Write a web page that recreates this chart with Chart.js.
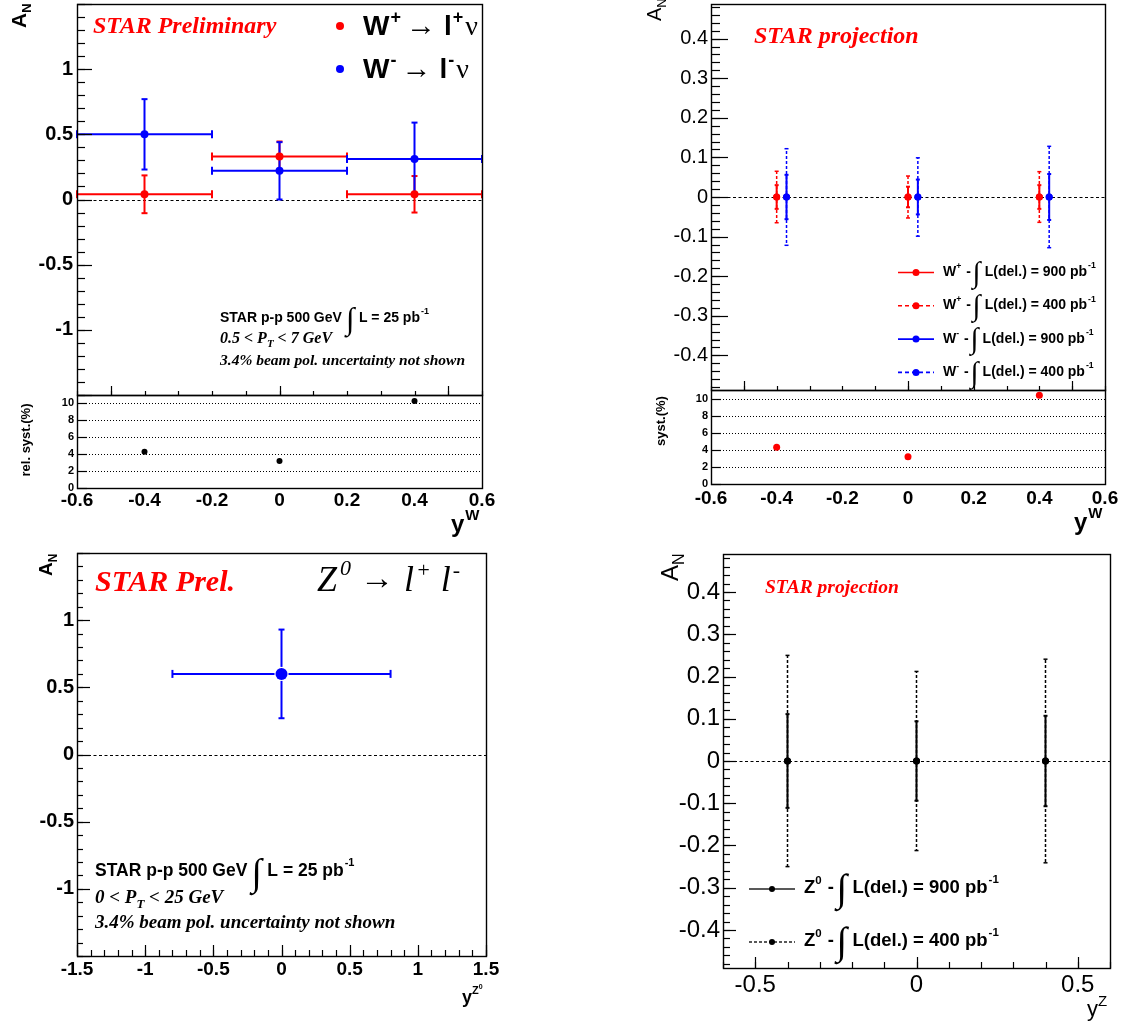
<!DOCTYPE html>
<html>
<head>
<meta charset="utf-8">
<title>Transverse single-spin asymmetry A_N for W and Z bosons</title>
<script src="https://cdn.jsdelivr.net/npm/chart.js@4.4.1/dist/chart.umd.min.js"></script>
<style>
  html, body { margin: 0; padding: 0; background: #fff; }
  #page { position: relative; width: 1137px; height: 1023px; overflow: hidden; }
  #page canvas { position: absolute; left: 0; top: 0; }
</style>
</head>
<body>
<div id="page">
  <canvas id="wMain" width="1137" height="1023"></canvas>
  <canvas id="wSyst" width="1137" height="1023"></canvas>
  <canvas id="wProj" width="1137" height="1023"></canvas>
  <canvas id="wProjSyst" width="1137" height="1023"></canvas>
  <canvas id="zMain" width="1137" height="1023"></canvas>
  <canvas id="zProj" width="1137" height="1023"></canvas>
</div>
<script>
// ---- W -> l nu, measured A_N vs boson rapidity (25 pb^-1) ----
const wRapidity = [-0.4, 0.0, 0.4];
const wRapHalfWidth = [0.2, 0.2, 0.2];
const wPlusAN = [0.04, 0.33, 0.04];
const wPlusErr = [0.145, 0.115, 0.14];
const wMinusAN = [0.50, 0.22, 0.31];
const wMinusErr = [0.27, 0.22, 0.28];
const wRelSyst = [4.3, 3.2, 10.3];

// ---- W projections for 900 / 400 pb^-1 delivered ----
const projRapWPlus = [-0.4, 0.0, 0.4];
const projRapWMinus = [-0.37, 0.03, 0.43];
const projAN = [0, 0, 0];
const wPlusErr900 = [0.030, 0.026, 0.030];
const wPlusErr400 = [0.065, 0.053, 0.064];
const wMinusErr900 = [0.056, 0.044, 0.058];
const wMinusErr400 = [0.122, 0.099, 0.128];
const projSyst = [4.3, 3.2, 10.4];

// ---- Z0 -> l+ l- ----
const zRapidity = [0.0];
const zRapHalfWidth = [0.8];
const zAN = [0.60];
const zErr = [0.33];
const zProjRap = [-0.4, 0.0, 0.4];
const zProjAN = [0, 0, 0];
const zErr900 = [0.111, 0.094, 0.107];
const zErr400 = [0.250, 0.212, 0.241];

// ---- tick labels ----
const anTicksWide = [-1, -0.5, 0, 0.5, 1];
const anTicksNarrow = [-0.4, -0.3, -0.2, -0.1, 0, 0.1, 0.2, 0.3, 0.4];
const wRapTicks = [-0.6, -0.4, -0.2, 0, 0.2, 0.4, 0.6];
const systTicks = [0, 2, 4, 6, 8, 10];
const zRapTicks = [-1.5, -1, -0.5, 0, 0.5, 1, 1.5];
const zProjRapTicks = [-0.5, 0, 0.5];

const W = 1137, H = 1023;
const AXW = 70, AXH = 45;   // fixed room for tick labels
const RED = '#ff0000', BLUE = '#0000ff', BLACK = '#000000';
const SANS = '"Liberation Sans", Arial, Helvetica, sans-serif';
const SERIF = '"Liberation Serif", "Times New Roman", serif';
const fnt = (size, weight, style, fam) => `${style || 'normal'} ${weight || 'normal'} ${size}px ${fam || SANS}`;

const pts = (xs, ys) => xs.map((x, i) => ({ x: x, y: ys[i] }));

// draws a run of text pieces [text, font, dy, extraGap] left to right
function rich(ctx, x, y, parts) {
  let cx = x;
  parts.forEach(p => {
    ctx.font = p[1];
    ctx.fillText(p[0], cx, y + (p[2] || 0));
    cx += ctx.measureText(p[0]).width + (p[3] || 0);
  });
  return cx;
}

// vertical axis title, reading bottom to top
function titleY(ctx, x, y, parts, align) {
  ctx.save();
  ctx.translate(x, y);
  ctx.rotate(-Math.PI / 2);
  ctx.fillStyle = BLACK;
  if (align === 'center') {
    ctx.textAlign = 'center';
    ctx.font = parts[0][1];
    ctx.fillText(parts[0][0], 0, 0);
  } else {
    rich(ctx, 0, 0, parts);
  }
  ctx.restore();
}

// "W+ - ∫L(del.) = 900 pb-1"
function lumiLabel(ctx, x, y, size, boson, charge, lumi) {
  ctx.fillStyle = BLACK;
  let cx = rich(ctx, x, y, [[boson, fnt(size, 'bold')], [charge, fnt(size * 0.62, 'bold'), -size * 0.5, 1], [' - ', fnt(size, 'bold')]]);
  ctx.font = fnt(size * 2.1, 'normal', 'italic', SERIF);
  ctx.fillText('\u222B', cx - size * 0.15, y + size * 0.42);
  cx += size * 0.72;
  rich(ctx, cx, y, [['L(del.) = ' + lumi + ' pb', fnt(size, 'bold'), 0, 1], ['-1', fnt(size * 0.62, 'bold'), -size * 0.55]]);
}

function drawErrors(ctx, xs, ys, ds) {
  if (!ds.errY && !ds.errX) return;
  ctx.save();
  ctx.strokeStyle = ds.errColor || ds.backgroundColor;
  ctx.lineWidth = ds.errWidth || 2;
  const gap = ds.errGap || 0, cap = ds.cap || 3;
  const seg = (x0, y0, x1, y1, dash) => {
    ctx.setLineDash(dash);
    ctx.beginPath(); ctx.moveTo(x0, y0); ctx.lineTo(x1, y1); ctx.stroke();
  };
  ds.data.forEach((p, j) => {
    const px = xs.getPixelForValue(p.x), py = ys.getPixelForValue(p.y);
    const dash = ds.errDash || [];
    if (ds.errY) {
      const top = ys.getPixelForValue(p.y + ds.errY[j]);
      const bot = ys.getPixelForValue(p.y - ds.errY[j]);
      seg(px, py - gap, px, top, dash);
      seg(px, py + gap, px, bot, dash);
      seg(px - cap, top, px + cap, top, []);
      seg(px - cap, bot, px + cap, bot, []);
    }
    if (ds.errX) {
      const lo = xs.getPixelForValue(p.x - ds.errX[j]);
      const hi = xs.getPixelForValue(p.x + ds.errX[j]);
      seg(px - gap, py, lo, py, dash);
      seg(px + gap, py, hi, py, dash);
      seg(lo, py - cap - 1, lo, py + cap + 1, []);
      seg(hi, py - cap - 1, hi, py + cap + 1, []);
    }
  });
  ctx.restore();
}

function drawTicks(ctx, scale, area, specs, axis) {
  specs.forEach(([step, len]) => {
    const i0 = Math.ceil(scale.min / step - 1e-6), i1 = Math.floor(scale.max / step + 1e-6);
    for (let i = i0; i <= i1; i++) {
      const pix = Math.round(scale.getPixelForValue(i * step)) + 0.5;
      ctx.beginPath();
      if (axis === 'y') { ctx.moveTo(area.left, pix); ctx.lineTo(area.left + len, pix); }
      else { ctx.moveTo(pix, area.bottom); ctx.lineTo(pix, area.bottom - len); }
      ctx.stroke();
    }
  });
}

// ROOT-like frame: inward ticks, zero line, error bars, extra text
function rootDecor(p) {
  return {
    id: 'rootDecor',
    beforeDatasetsDraw(chart) {
      const ctx = chart.ctx, a = chart.chartArea, xs = chart.scales.x, ys = chart.scales.y;
      ctx.save();
      ctx.strokeStyle = BLACK;
      if (p.zeroLine) {
        const y0 = Math.round(ys.getPixelForValue(0)) + 0.5;
        ctx.lineWidth = 1.2; ctx.setLineDash([3, 2.5]);
        ctx.beginPath(); ctx.moveTo(a.left, y0); ctx.lineTo(a.right, y0); ctx.stroke();
      }
      if (p.dotted) {
        ctx.lineWidth = 1; ctx.setLineDash([1, 2]);
        p.dotted.forEach(v => {
          const y = Math.round(ys.getPixelForValue(v)) + 0.5;
          ctx.beginPath(); ctx.moveTo(a.left, y); ctx.lineTo(a.right, y); ctx.stroke();
        });
      }
      ctx.restore();
      chart.data.datasets.forEach(ds => drawErrors(ctx, xs, ys, ds));
    },
    afterDatasetsDraw(chart) {
      const ctx = chart.ctx, a = chart.chartArea;
      ctx.save();
      ctx.strokeStyle = BLACK; ctx.lineWidth = 1.4; ctx.setLineDash([]);
      ctx.strokeRect(Math.round(a.left) + 0.5, Math.round(a.top) + 0.5, Math.round(a.right - a.left), Math.round(a.bottom - a.top));
      ctx.lineWidth = 1.2;
      if (p.yTicks) drawTicks(ctx, chart.scales.y, a, p.yTicks, 'y');
      if (p.xTicks) drawTicks(ctx, chart.scales.x, a, p.xTicks, 'x');
      ctx.restore();
      if (p.decorate) { ctx.save(); ctx.textBaseline = 'alphabetic'; p.decorate(ctx, chart); ctx.restore(); }
    }
  };
}

function axisOpts(axis, a) {
  return {
    type: 'linear', position: axis === 'x' ? 'bottom' : 'left',
    min: a.min, max: a.max,
    grid: { display: false, drawTicks: false },
    border: { display: false },
    afterBuildTicks: s => { s.ticks = a.labels.map(v => ({ value: v })); },
    afterFit: s => {
      if (axis === 'x') s.height = AXH; else s.width = AXW;
      s.paddingTop = 0; s.paddingBottom = 0; s.paddingLeft = 0; s.paddingRight = 0;
    },
    ticks: {
      display: a.show !== false,
      autoSkip: false, maxRotation: 0, minRotation: 0,
      padding: a.pad, color: BLACK,
      font: { family: SANS, size: a.size, weight: a.weight || 'normal' },
      callback: v => String(v)
    }
  };
}

function makePanel(id, p) {
  const b = p.box;
  return new Chart(document.getElementById(id), {
    type: 'scatter',
    data: { datasets: p.datasets },
    options: {
      responsive: false, animation: false, devicePixelRatio: 1, events: [],
      layout: { padding: { left: b[0] - AXW, top: b[1], right: W - b[2], bottom: H - b[3] - AXH } },
      plugins: { legend: { display: false }, tooltip: { enabled: false }, title: { display: false } },
      scales: { x: axisOpts('x', p.x), y: axisOpts('y', p.y) }
    },
    plugins: [rootDecor(p)]
  });
}

function marker(color, r) {
  return { showLine: false, pointRadius: r, pointBorderWidth: 0, backgroundColor: color, pointBackgroundColor: color, borderColor: color };
}

// ================= top left: measured W asymmetry =================
makePanel('wMain', {
  box: [77, 4, 482, 395],
  x: { min: -0.6, max: 0.6, labels: wRapTicks, show: false },
  y: { min: -1.5, max: 1.5, labels: anTicksWide, size: 20, weight: 'bold', pad: 4 },
  yTicks: [[0.5, 15], [0.1, 8]],
  xTicks: [[0.5, 9], [0.1, 4]],
  zeroLine: true,
  datasets: [
    Object.assign({ data: pts(wRapidity, wPlusAN), errX: wRapHalfWidth, errY: wPlusErr, errWidth: 2, cap: 3 }, marker(RED, 4)),
    Object.assign({ data: pts(wRapidity, wMinusAN), errX: wRapHalfWidth, errY: wMinusErr, errWidth: 2, cap: 3 }, marker(BLUE, 4))
  ],
  decorate(ctx) {
    ctx.fillStyle = RED;
    ctx.font = fnt(24, 'bold', 'italic', SERIF);
    ctx.fillText('STAR Preliminary', 93, 33);
    [[RED, '+', 35], [BLUE, '-', 78]].forEach(([c, q, by]) => {
      ctx.fillStyle = c;
      ctx.beginPath(); ctx.arc(340, by - 9, 4, 0, 2 * Math.PI); ctx.fill();
      ctx.fillStyle = BLACK;
      rich(ctx, 363, by, [
        ['W', fnt(28, 'bold'), 0, 1], [q, fnt(18, 'bold'), -12, 5],
        ['\u2192', fnt(30), 0, 8],
        ['l', fnt(28, 'bold'), 0, 1], [q, fnt(18, 'bold'), -12, 2],
        ['\u03BD', fnt(28, 'normal', 'normal', SERIF)]
      ]);
    });
    ctx.fillStyle = BLACK;
    let cx = rich(ctx, 220, 322, [['STAR p-p 500 GeV', fnt(14, 'bold'), 0, 3]]);
    ctx.font = fnt(31, 'normal', 'italic', SERIF);
    ctx.fillText('\u222B', cx + 1, 329);
    rich(ctx, cx + 14, 322, [['L = 25 pb', fnt(14, 'bold'), 0, 1], ['-1', fnt(9, 'bold'), -8]]);
    rich(ctx, 220, 343, [['0.5 < P', fnt(16, 'bold', 'italic', SERIF)], ['T', fnt(11, 'bold', 'italic', SERIF), 4], [' < 7 GeV', fnt(16, 'bold', 'italic', SERIF)]]);
    rich(ctx, 220, 365, [['3.4% beam pol. uncertainty not shown', fnt(15.5, 'bold', 'italic', SERIF)]]);
    titleY(ctx, 26, 28, [['A', fnt(21, 'bold')], ['N', fnt(13, 'bold'), 5]]);
  }
});

makePanel('wSyst', {
  box: [77, 395, 482, 488],
  x: { min: -0.6, max: 0.6, labels: wRapTicks, size: 19, weight: 'bold', pad: 1 },
  y: { min: 0, max: 11, labels: systTicks, size: 11, weight: 'bold', pad: 3 },
  yTicks: [[2, 10]],
  dotted: [2, 4, 6, 8, 10],
  datasets: [Object.assign({ data: pts(wRapidity, wRelSyst) }, marker(BLACK, 3))],
  decorate(ctx) {
    titleY(ctx, 30, 440, [['rel. syst.(%)', fnt(13, 'bold')]], 'center');
    ctx.fillStyle = BLACK;
    rich(ctx, 451, 532, [['y', fnt(24, 'bold'), 0, 1], ['W', fnt(15, 'bold'), -12]]);
  }
});

// ================= top right: W projections =================
function wProjSet(rap, err, color, dash, width) {
  return Object.assign({ data: pts(rap, projAN), errY: err, errDash: dash, errWidth: width, errGap: 3, cap: 2 }, marker(color, 3.5));
}
const wProjRows = [
  { color: RED, charge: '+', lumi: 900, dash: [] },
  { color: RED, charge: '+', lumi: 400, dash: [4, 3] },
  { color: BLUE, charge: '-', lumi: 900, dash: [] },
  { color: BLUE, charge: '-', lumi: 400, dash: [4, 3] }
];
makePanel('wProj', {
  box: [711, 0, 1105, 390],
  x: { min: -0.6, max: 0.6, labels: wRapTicks, show: false },
  y: { min: -0.4875, max: 0.4875, labels: anTicksNarrow, size: 20, pad: 3 },
  yTicks: [[0.1, 17], [0.02, 9]],
  xTicks: [[0.5, 9], [0.1, 4]],
  zeroLine: true,
  datasets: [
    wProjSet(projRapWPlus, wPlusErr400, RED, [3, 2], 1.5),
    wProjSet(projRapWPlus, wPlusErr900, RED, [], 2),
    wProjSet(projRapWMinus, wMinusErr400, BLUE, [3, 2], 1.5),
    wProjSet(projRapWMinus, wMinusErr900, BLUE, [], 2)
  ],
  decorate(ctx) {
    ctx.fillStyle = RED;
    ctx.font = fnt(24, 'bold', 'italic', SERIF);
    ctx.fillText('STAR projection', 754, 43);
    wProjRows.forEach((r, i) => {
      const y = 272.5 + i * 33.3;
      ctx.strokeStyle = r.color; ctx.lineWidth = 1.6; ctx.setLineDash(r.dash);
      ctx.beginPath(); ctx.moveTo(898, y); ctx.lineTo(934, y); ctx.stroke();
      ctx.setLineDash([]);
      ctx.fillStyle = r.color;
      ctx.beginPath(); ctx.arc(916, y, 3.5, 0, 2 * Math.PI); ctx.fill();
      lumiLabel(ctx, 943, y + 3.5, 14, 'W', r.charge, r.lumi);
    });
    titleY(ctx, 661, 21, [['A', fnt(20)], ['N', fnt(13), 5]]);
  }
});

makePanel('wProjSyst', {
  box: [711, 390, 1105, 484],
  x: { min: -0.6, max: 0.6, labels: wRapTicks, size: 19, weight: 'bold', pad: 3.5 },
  y: { min: 0, max: 11, labels: systTicks, size: 11, weight: 'bold', pad: 3 },
  yTicks: [[2, 10]],
  dotted: [2, 4, 6, 8, 10],
  datasets: [Object.assign({ data: pts(projRapWPlus, projSyst) }, marker(RED, 3.5))],
  decorate(ctx) {
    titleY(ctx, 665, 421, [['syst.(%)', fnt(13, 'bold')]], 'center');
    ctx.fillStyle = BLACK;
    rich(ctx, 1074, 530, [['y', fnt(24, 'bold'), 0, 1], ['W', fnt(15, 'bold'), -12]]);
  }
});

// ================= bottom left: measured Z asymmetry =================
makePanel('zMain', {
  box: [77, 553, 486, 956],
  x: { min: -1.5, max: 1.5, labels: zRapTicks, size: 19, weight: 'bold', pad: 2.5 },
  y: { min: -1.5, max: 1.5, labels: anTicksWide, size: 20, weight: 'bold', pad: 3 },
  yTicks: [[0.5, 13], [0.1, 6]],
  xTicks: [[0.5, 11], [0.1, 6]],
  zeroLine: true,
  datasets: [
    Object.assign({ data: pts(zRapidity, zAN), errX: zRapHalfWidth, errY: zErr, errWidth: 2, errGap: 7, cap: 3 }, marker(BLUE, 6))
  ],
  decorate(ctx) {
    ctx.fillStyle = RED;
    ctx.font = fnt(30, 'bold', 'italic', SERIF);
    ctx.fillText('STAR Prel.', 95, 591);
    ctx.fillStyle = BLACK;
    const it = fnt(36, 'normal', 'italic', SERIF), itS = fnt(22, 'normal', 'italic', SERIF);
    rich(ctx, 317, 591, [
      ['Z', it, 0, 3], ['0', itS, -16, 9],
      ['\u2192', fnt(34, 'normal', 'normal', SERIF), -2, 10],
      ['l', it, 0, 2], ['+', itS, -14, 10],
      ['l', it, 0, 2], ['-', itS, -14]
    ]);
    let cx = rich(ctx, 95, 876, [['STAR p-p 500 GeV', fnt(17.5, 'bold'), 0, 3]]);
    ctx.font = fnt(38, 'normal', 'italic', SERIF);
    ctx.fillText('\u222B', cx + 1, 885);
    rich(ctx, cx + 17, 876, [['L = 25 pb', fnt(17.5, 'bold'), 0, 1], ['-1', fnt(11, 'bold'), -10]]);
    rich(ctx, 95, 903, [['0 < P', fnt(19, 'bold', 'italic', SERIF)], ['T', fnt(13, 'bold', 'italic', SERIF), 5], [' < 25 GeV', fnt(19, 'bold', 'italic', SERIF)]]);
    rich(ctx, 95, 928, [['3.4% beam pol. uncertainty not shown', fnt(19, 'bold', 'italic', SERIF)]]);
    titleY(ctx, 52, 576, [['A', fnt(19, 'bold')], ['N', fnt(12, 'bold'), 5]]);
    rich(ctx, 462, 1003, [['y', fnt(18, 'bold'), 0, 0], ['Z', fnt(11, 'bold'), -9, 0], ['0', fnt(7, 'bold'), -14]]);
  }
});

// ================= bottom right: Z projections =================
const zProjRows = [{ lumi: 900, dash: [] }, { lumi: 400, dash: [3, 2] }];
makePanel('zProj', {
  box: [723, 554, 1110, 968],
  x: { min: -0.6, max: 0.6, labels: zProjRapTicks, size: 24, pad: 2.5 },
  y: { min: -0.49, max: 0.49, labels: anTicksNarrow, size: 24, pad: 3 },
  yTicks: [[0.1, 13], [0.02, 7]],
  xTicks: [[0.5, 11], [0.1, 6]],
  zeroLine: true,
  datasets: [
    Object.assign({ data: pts(zProjRap, zProjAN), errY: zErr400, errDash: [3, 2], errWidth: 1.5, errGap: 3, cap: 2 }, marker(BLACK, 3.5)),
    Object.assign({ data: pts(zProjRap, zProjAN), errY: zErr900, errWidth: 2, errGap: 3, cap: 2 }, marker(BLACK, 3.5))
  ],
  decorate(ctx) {
    ctx.fillStyle = RED;
    ctx.font = fnt(19.5, 'bold', 'italic', SERIF);
    ctx.fillText('STAR projection', 765, 593);
    zProjRows.forEach((r, i) => {
      const y = 889 + i * 53;
      ctx.strokeStyle = '#222'; ctx.lineWidth = 1.6; ctx.setLineDash(r.dash);
      ctx.beginPath(); ctx.moveTo(749, y); ctx.lineTo(795, y); ctx.stroke();
      ctx.setLineDash([]);
      ctx.fillStyle = BLACK;
      ctx.beginPath(); ctx.arc(772, y, 3, 0, 2 * Math.PI); ctx.fill();
      lumiLabel(ctx, 804, y + 4, 18.5, 'Z', '0', r.lumi);
    });
    titleY(ctx, 678, 581, [['A', fnt(24)], ['N', fnt(16), 6]]);
    ctx.fillStyle = BLACK;
    rich(ctx, 1087, 1016, [['y', fnt(22), 0, 0], ['Z', fnt(15), -10]]);
  }
});
</script>
</body>
</html>
